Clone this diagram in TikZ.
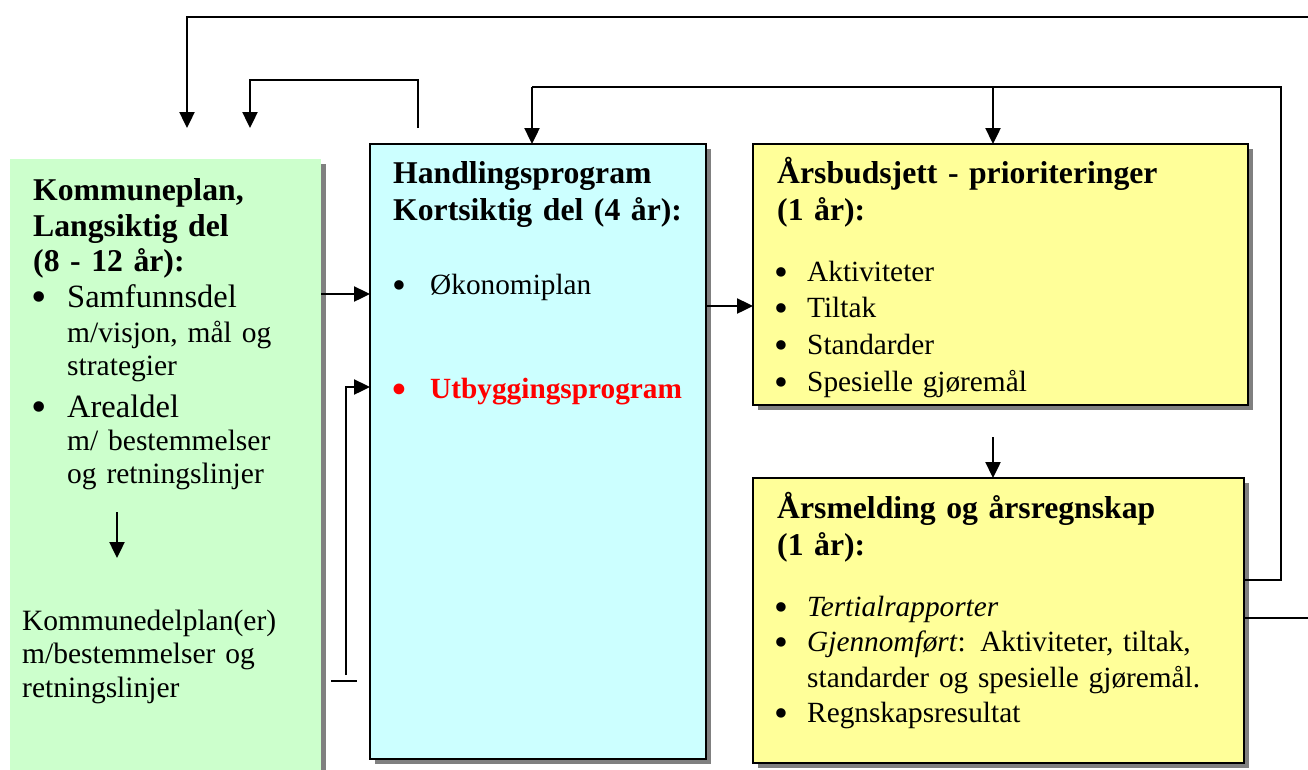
\documentclass[tikz,border=0pt]{standalone}
\usepackage{fontspec}
\usepackage{graphicx}
\setmainfont{Liberation Serif}
\usetikzlibrary{arrows.meta, calc, shadows}

\definecolor{kpgreen}{HTML}{CCFFCC}
\definecolor{hpblue}{HTML}{CCFFFF}
\definecolor{abyellow}{HTML}{FFFF99}

\newcommand{\hdfont}{\fontsize{31.7}{37}\selectfont\bfseries}
\newcommand{\bul}[1]{\makebox[#1][l]{\raisebox{-0.14em}{\scalebox{1.35}{\textbullet}}}}

\begin{document}
\begin{tikzpicture}[x=1pt, y=-1pt,
	box/.style={anchor=north west, inner sep=0pt, outer sep=0pt,
		drop shadow={shadow xshift=5pt, shadow yshift=-5pt, fill=black!50, opacity=1}},
	txt/.style={anchor=base west, inner sep=0pt, text width=#1, align=left},
	arr/.style={line width=2.4pt, -{Triangle[width=15pt, length=16pt]}},
	lin/.style={line width=2.4pt}]
	\clip (0,0) rectangle (1308,769);
	% boxes
	\node [box, fill=kpgreen, minimum width=311pt, minimum height=630pt] (kp) at (10,159) {};
	\node [box, fill=hpblue, draw, line width=2pt, minimum width=336pt, minimum height=615pt] (hp) at (370,144) {};
	\node [box, fill=abyellow, draw, line width=2pt, minimum width=495pt, minimum height=261pt] (ybud) at (753,144) {};
	\node [box, fill=abyellow, draw, line width=2pt, minimum width=491pt, minimum height=285pt] (ymeld) at (753,478) {};
	% texts
	\node [txt=290pt, font=\hdfont] (kphead) at (33,200) {Kommuneplan,\\[-1pt]Langsiktig del\\[-2pt](8 - 12 år):};
	\node [txt=290pt, font=\fontsize{29.5}{33}\selectfont] (kplist) at (31,307)
		{{\fontsize{32.5}{33}\selectfont\bul{36pt}Samfunnsdel}\\[2pt]
		\hspace*{36pt}m/visjon, mål og\\
		\hspace*{36pt}strategier\\[9pt]
		{\fontsize{32.5}{33}\selectfont\bul{36pt}Arealdel}\\
		\hspace*{36pt}m/ bestemmelser\\
		\hspace*{36pt}og retningslinjer};
	\node [txt=290pt, font=\fontsize{29.5}{33.5}\selectfont] (kdp) at (22,630) {Kommunedelplan(er)\\m/bestemmelser og\\retningslinjer};
	\node [txt=310pt, font=\hdfont] (hphead) at (393,183) {Handlingsprogram\\Kortsiktig del (4 år):};
	\node [txt=310pt, font=\fontsize{29.3}{36}\selectfont] (hplist) at (392,294)
		{\bul{38pt}Økonomiplan\\[68pt]
		{\color{red}\bfseries\bul{38pt}Utbyggingsprogram}};
	\node [txt=460pt, font=\hdfont] (ybudhead) at (777,183) {Årsbudsjett - prioriteringer\\(1 år):};
	\node [txt=440pt, font=\fontsize{29.3}{36.7}\selectfont] (ybudlist) at (774,281)
		{\bul{33pt}Aktiviteter\\\bul{33pt}Tiltak\\\bul{33pt}Standarder\\\bul{33pt}Spesielle gjøremål};
	\node [txt=460pt, font=\hdfont] (ymeldhead) at (777,518) {Årsmelding og årsregnskap\\(1 år):};
	\node [txt=440pt, font=\fontsize{29.3}{35.5}\selectfont] (ymeldlist) at (774,616)
		{\bul{33pt}\textit{Tertialrapporter}\\
		\bul{33pt}\textit{Gjennomført}: Aktiviteter, tiltak,\\
		\hspace*{33pt}standarder og spesielle gjøremål.\\
		\bul{33pt}Regnskapsresultat};
	% connectors
	\coordinate (topin) at (1320,17);
	\coordinate (kpin) at (187,128);
	\coordinate (hpout) at (418,128);
	\coordinate (kpin2) at (250,128);
	\coordinate (loopR) at (1281,87);
	\coordinate (loopL) at (532,87);
	\coordinate (br) at (993,87);
	\coordinate (ybout) at (993,437);
	\coordinate (areal) at (117,512);
	\coordinate (kdpin) at (117,558);
	\coordinate (ret) at (346,675);
	\draw [arr] (topin) -| (kpin);
	\draw [arr] (hpout) -- ++(0,-48) -| (kpin2);
	\draw [lin] ($(ymeld.north east)+(0,102)$) -| (loopR) -- (loopL);
	\draw [arr] (loopL) -- (loopL |- hp.north);
	\draw [arr] (br) -- (br |- ybud.north);
	\draw [lin] ($(ymeld.north east)+(0,140)$) -- ++(80,0);
	\draw [arr] (kp.east |- 0,294) -- (hp.west |- 0,294);
	\draw [arr] (hp.east |- 0,306) -- (ybud.west |- 0,306);
	\draw [arr] (ybout) -- (ybout |- ymeld.north);
	\draw [arr] (areal) -- (kdpin);
	\draw [arr] (ret) |- (hp.west |- 0,387);
	\draw [lin] ($(ret)+(-15,6)$) -- ($(ret)+(11,6)$);
\end{tikzpicture}
\end{document}
